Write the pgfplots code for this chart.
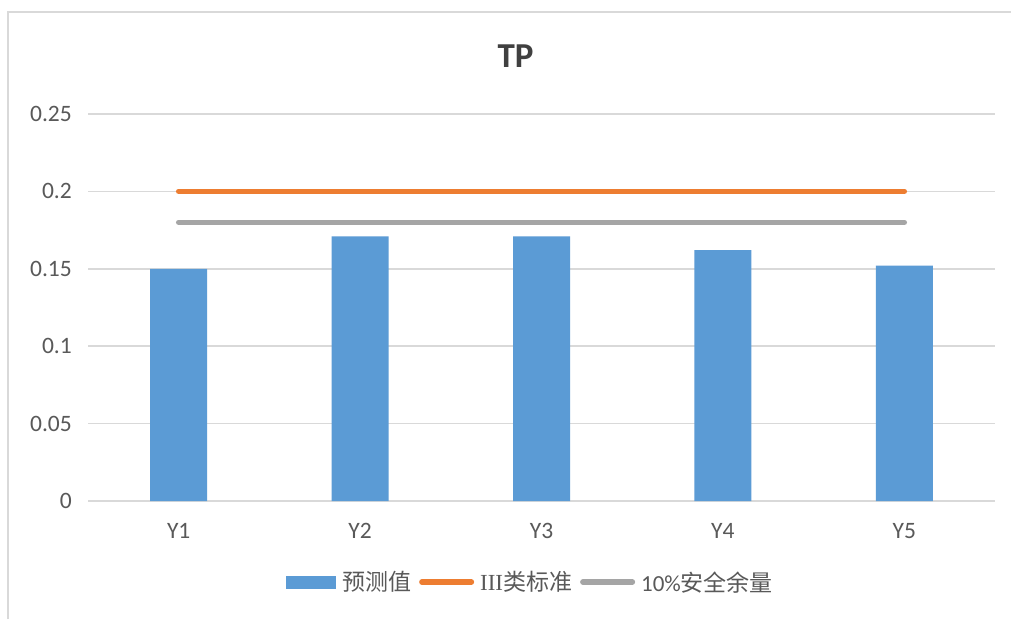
\documentclass[border=0pt]{standalone}
\usepackage{pgfplots}
\pgfplotsset{compat=1.18}
\usepackage{fontspec}
\setmainfont{Carlito}
\newfontfamily\cjk{Noto Sans CJK SC}
\newfontfamily\romannum{Liberation Serif}
\definecolor{barblue}{HTML}{5B9BD5}
\definecolor{stdorange}{HTML}{ED7D31}
\definecolor{margingray}{HTML}{A5A5A5}
\definecolor{gridgray}{HTML}{D9D9D9}
\definecolor{labelgray}{HTML}{595959}
\definecolor{titlegray}{HTML}{404040}
\begin{document}
\begin{tikzpicture}[x=1pt,y=1pt]
\useasboundingbox (0,0) rectangle (1011,619);
\fill[white] (0,0) rectangle (1011,619);
% chart frame
\draw[gridgray, line width=1.5pt] (8,0) -- (8,607) -- (1011,607);
% chart title
\node[font=\fontsize{35}{40}\selectfont\bfseries, text=titlegray] at (515.5,563) {TP};
\begin{axis}[
  at={(88pt,118pt)}, anchor=south west,
  scale only axis, width=907pt, height=387pt,
  xmin=-0.5, xmax=4.5, ymin=0, ymax=0.25,
  xtick={0,1,2,3,4}, xticklabels={Y1,Y2,Y3,Y4,Y5},
  ytick={0,0.05,0.1,0.15,0.2,0.25},
  yticklabels={0,0.05,0.1,0.15,0.2,0.25},
  axis x line*=bottom, axis y line*=left,
  x axis line style={draw=gridgray, line width=1.5pt, -},
  y axis line style={draw=none},
  major tick length=0pt,
  ymajorgrids, grid style={gridgray, line width=1.5pt},
  tick label style={font=\fontsize{23.5}{26}\selectfont, text=labelgray},
  y tick label style={inner sep=0pt, anchor=east, xshift=-16pt},
  x tick label style={inner sep=0pt, anchor=north, yshift=-22pt},
  legend columns=-1,
  legend style={at={(0.4868,-0.2093)}, anchor=center, draw=none, fill=none,
    inner sep=0pt, font=\fontsize{23}{26}\selectfont, text=labelgray,
    nodes={inner sep=0pt},
    /tikz/every even column/.append style={column sep=8pt},
    /tikz/every odd column/.append style={column sep=6pt}},
]
\addplot[ybar, bar width=57pt, fill=barblue, draw=none,
  legend image code/.code={\fill[barblue] (0pt,-6.5pt) rectangle (50pt,6.5pt);}]
  coordinates {(0,0.150) (1,0.171) (2,0.171) (3,0.162) (4,0.152)};
\addlegendentry{{\cjk 预测值}}
\addplot[stdorange, line width=5.5pt, line cap=round,
  legend image code/.code={\path[draw=none, fill=none] (0pt,-6.5pt) rectangle (55pt,6.5pt);
    \draw[stdorange, line width=5.5pt, line cap=round] (2.75pt,0pt) -- (52.25pt,0pt);}]
  coordinates {(0,0.2) (4,0.2)};
\addlegendentry{{\romannum III}{\cjk 类标准}}
\addplot[margingray, line width=5.5pt, line cap=round,
  legend image code/.code={\path[draw=none, fill=none] (0pt,-6.5pt) rectangle (55pt,6.5pt);
    \draw[margingray, line width=5.5pt, line cap=round] (2.75pt,0pt) -- (52.25pt,0pt);}]
  coordinates {(0,0.18) (4,0.18)};
\addlegendentry{10\%{\cjk 安全余量}}
\end{axis}
\end{tikzpicture}
\end{document}
